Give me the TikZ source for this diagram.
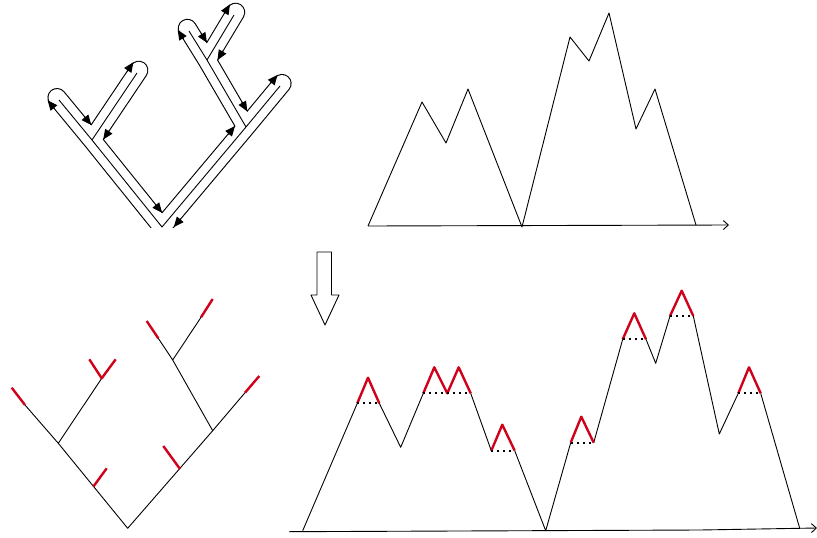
\documentclass[tikz,border=0pt]{standalone}
\usetikzlibrary{arrows.meta,calc}
\definecolor{peakred}{RGB}{208,2,27}
\begin{document}
\begin{tikzpicture}[x=1pt,y=-1pt,line join=round,
  treeline/.style={line width=0.9pt},
  tourtip/.style={line width=1pt,-{Triangle[length=10pt,width=8.5pt]}},
  axisline/.style={line width=0.9pt,-{Straight Barb[length=5pt,width=9pt]}},
  redcap/.style={draw=peakred,line width=2.4pt},
  ridge/.style={line width=2pt,dash pattern=on 2pt off 4pt},
  hollow/.style={line width=0.9pt,fill=white}]
\useasboundingbox (0,0) rectangle (817,538);

% ---------- top-left: Euler tour around a tree ----------
\coordinate (T0) at (162,227);
\coordinate (L)  at (92,140);
\coordinate (La) at (59,100);
\coordinate (Lb) at (137,73);
\coordinate (R)  at (246,127);
\coordinate (Ra) at (280,86);
\coordinate (C)  at (207,60);
\coordinate (Ca) at (189,31);
\coordinate (Cb) at (234,15);
\coordinate (Lax) at ($(L)!1.06!(La)$);
\coordinate (Lbx) at ($(L)!1.04!(Lb)$);
\coordinate (Rax) at ($(R)!1.06!(Ra)$);
\coordinate (Cax) at ($(C)!1.09!(Ca)$);
\coordinate (Cbx) at ($(C)!1.06!(Cb)$);
\begin{scope}
  \clip (0,0) rectangle (400,227);
  \draw[line width=19.2pt,line cap=round]
    (Lax) -- (L) -- (T0) -- (R) -- (Rax) (Lbx) -- (L) (R) -- (C) -- (Cax) (C) -- (Cbx);
  \draw[white,line width=17pt,line cap=round]
    (Lax) -- (L) -- (T0) -- (R) -- (Rax) (Lbx) -- (L) (R) -- (C) -- (Cax) (C) -- (Cbx);
\end{scope}
\draw[treeline] (La) -- (L) -- (T0) -- (R) -- (Ra) (Lb) -- (L) (R) -- (C) -- (Ca) (C) -- (Cb);
% arrow heads of the tour
\coordinate (a1s) at (54.6,108.8);  \coordinate (a1) at (47.6,100.3);
\coordinate (a2s) at (84.3,116.5);  \coordinate (a2) at (91.3,125.0);
\coordinate (a3s) at (127.2,71.3);  \coordinate (a3) at (133.4,62.2);
\coordinate (a4s) at (109.4,130.4); \coordinate (a4) at (103.2,139.5);
\coordinate (a5s) at (155.2,204.3); \coordinate (a5) at (162.1,212.8);
\coordinate (a6s) at (228.0,134.5); \coordinate (a6) at (235.0,126.1);
\coordinate (a7s) at (183.5,39.2);  \coordinate (a7) at (177.7,29.8);
\coordinate (a8s) at (201.1,33.3);  \coordinate (a8) at (206.9,42.7);
\coordinate (a9s) at (224.3,13.8);  \coordinate (a9) at (229.9,4.4);
\coordinate (a10s) at (223.1,50.6); \coordinate (a10) at (217.5,60.1);
\coordinate (a11s) at (241.8,101.9); \coordinate (a11) at (247.3,111.4);
\coordinate (a12s) at (270.6,83.3); \coordinate (a12) at (277.6,74.9);
\coordinate (a13s) at (180.8,218.6); \coordinate (a13) at (173.8,227);
\foreach \k in {1,...,13} { \draw[tourtip] (a\k s) -- (a\k); }

% ---------- top-right: depth profile ----------
\coordinate (m0) at (368,226);
\coordinate (mEnd) at (729,225);
\draw[treeline] (m0) -- (422,102) -- (446,143) -- (468,89) -- (522,227)
  -- (570,37) -- (589,61) -- (609,13) -- (636,129) -- (655,89) -- (696,225);
\draw[axisline] (m0) -- (mEnd);

% ---------- hollow arrow ----------
\draw[hollow] (317,252) -- (331.5,252) -- (331.5,295) -- (339,295) -- (325,325)
  -- (311,295) -- (317,295) -- cycle;

% ---------- bottom-left: tree with red leaves ----------
\coordinate (b0) at (127.7,528.3);
\coordinate (bL) at (58.3,443.3);
\coordinate (bLr) at (25,405);     \coordinate (bLl) at (11.7,387.7);
\coordinate (bS1) at (93.3,486.7); \coordinate (bS1e) at (106.7,468.3);
\coordinate (bB) at (101.7,378.3);
\coordinate (bB1) at (89.3,359.3); \coordinate (bB2) at (115.7,359.3);
\coordinate (bR) at (212.7,430.7);
\coordinate (bRr) at (245,392.7);  \coordinate (bRl) at (259.3,376);
\coordinate (bS2) at (180,469);    \coordinate (bS2e) at (163.3,446);
\coordinate (bC) at (172.7,360);
\coordinate (bC1r) at (158.3,338.3); \coordinate (bC1) at (146.7,321);
\coordinate (bC2r) at (201,317.3);   \coordinate (bC2) at (212.7,299);
\draw[treeline] (bLr) -- (bL) -- (b0) -- (bR) -- (bRr)
  (bL) -- (bB) (bR) -- (bC) -- (bC1r) (bC) -- (bC2r);
\draw[redcap] (bLr) -- (bLl) (bS1) -- (bS1e) (bB1) -- (bB) -- (bB2)
  (bRr) -- (bRl) (bS2) -- (bS2e) (bC1r) -- (bC1) (bC2r) -- (bC2);

% ---------- bottom-right: profile with red peaks ----------
\coordinate (n0) at (289,531.7);
\coordinate (nEnd) at (817,528);
\draw[axisline] (n0) -- (700,530) -- (nEnd);
\draw[treeline] (302.7,530.7) -- (357.3,403.3)
  (379.3,403.3) -- (400.7,447.3) -- (423.3,393.3)
  (470.7,393.3) -- (491.3,450.7)
  (514.7,450.7) -- (545.7,530.7) -- (570.7,442.7)
  (593.7,442.7) -- (622.7,339.3)
  (646,339.3) -- (655.7,363.3) -- (670,316)
  (693.3,316) -- (719.3,434) -- (738.3,393.3)
  (760.7,393.3) -- (799.7,528.3);
\draw[redcap] (357.3,403.3) -- (368,377.7) -- (379.3,403.3)
  (423.3,393.3) -- (434.3,367.3) -- (447.3,393.3) -- (458.7,367.3) -- (470.7,393.3)
  (491.3,450.7) -- (502.3,424.7) -- (514.7,450.7)
  (570.7,442.7) -- (581.3,416.7) -- (593.7,442.7)
  (622.7,339.3) -- (634.3,313.3) -- (646,339.3)
  (670,316) -- (681.7,290.7) -- (693.3,316)
  (738.3,393.3) -- (749,367.3) -- (760.7,393.3);
\draw[ridge] (357.3,403.3) -- (379.3,403.3)
  (423.3,393.3) -- (470.7,393.3)
  (491.3,450.7) -- (514.7,450.7)
  (570.7,442.7) -- (593.7,442.7)
  (622.7,339.3) -- (646,339.3)
  (670,316) -- (693.3,316)
  (738.3,393.3) -- (760.7,393.3);
\end{tikzpicture}
\end{document}
